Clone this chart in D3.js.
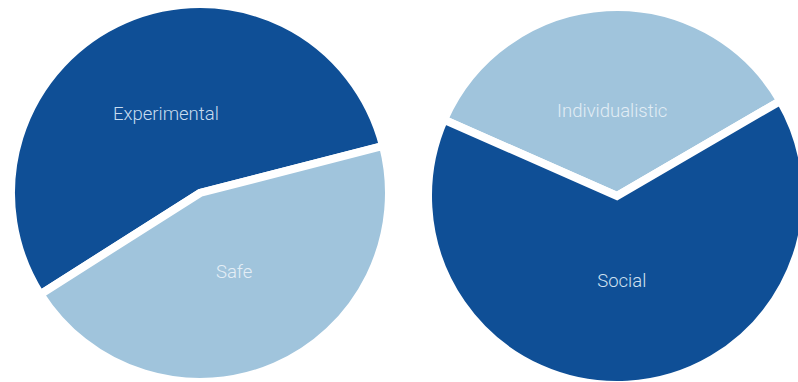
<!DOCTYPE html>
<html>
<head>
<meta charset="utf-8">
<script src="https://cdn.jsdelivr.net/npm/d3@7"></script>
<style>
  html, body { margin: 0; padding: 0; background: #ffffff; }
  svg { display: block; }
</style>
</head>
<body>
<svg id="chart" width="798" height="382"></svg>
<script>
// ---- data ----
const leftCategories = ["Experimental", "Safe"];
const leftValues = [55, 45];
const rightCategories = ["Individualistic", "Social"];
const rightValues = [35, 65];

// ---- styling ----
const darkBlue = "#0f4f96";
const lightBlue = "#a0c4dc";
const leftColors = [darkBlue, lightBlue];
const rightColors = [lightBlue, darkBlue];
const leftLabelColors = ["#c8dcef", "#e4eef6"];
const rightLabelColors = ["#e2edf5", "#d0e1f1"];

const svg = d3.select("#chart");
const deg = Math.PI / 180;
const R = 185;
const gap = 8;

function drawPie(cx, cy, cats, vals, colors, labelColors, startDeg, labelR) {
  const data = cats.map((c, i) => ({ cat: c, value: vals[i] }));
  const pie = d3.pie()
    .value(d => d.value)
    .sort(null)
    .startAngle(startDeg * deg)
    .endAngle(startDeg * deg + 2 * Math.PI);
  const arc = d3.arc()
    .innerRadius(0)
    .outerRadius(R + gap / 2);
  const labelArc = d3.arc().innerRadius(0).outerRadius(labelR * 2);

  const g = svg.append("g").attr("transform", `translate(${cx},${cy})`);
  const arcs = pie(data);
  g.selectAll("path")
    .data(arcs)
    .join("path")
    .attr("d", arc)
    .attr("fill", (d, i) => colors[i])
    .attr("stroke", "#ffffff")
    .attr("stroke-width", gap)
    .attr("stroke-linejoin", "miter")
    .attr("stroke-miterlimit", 10);

  g.selectAll("text")
    .data(arcs)
    .join("text")
    .attr("x", d => labelArc.centroid(d)[0])
    .attr("y", d => labelArc.centroid(d)[1])
    .attr("text-anchor", "middle")
    .attr("dominant-baseline", "central")
    .attr("font-family", "Roboto, 'Open Sans', sans-serif")
    .attr("font-weight", 300)
    .attr("font-size", 18.5)
    .attr("fill", (d, i) => labelColors[i])
    .text(d => d.data.cat);
}

drawPie(200, 193, leftCategories, leftValues, leftColors, leftLabelColors, -122.4, 86);
drawPie(617, 196, rightCategories, rightValues, rightColors, rightLabelColors, -66.2, 85);
</script>
</body>
</html>
